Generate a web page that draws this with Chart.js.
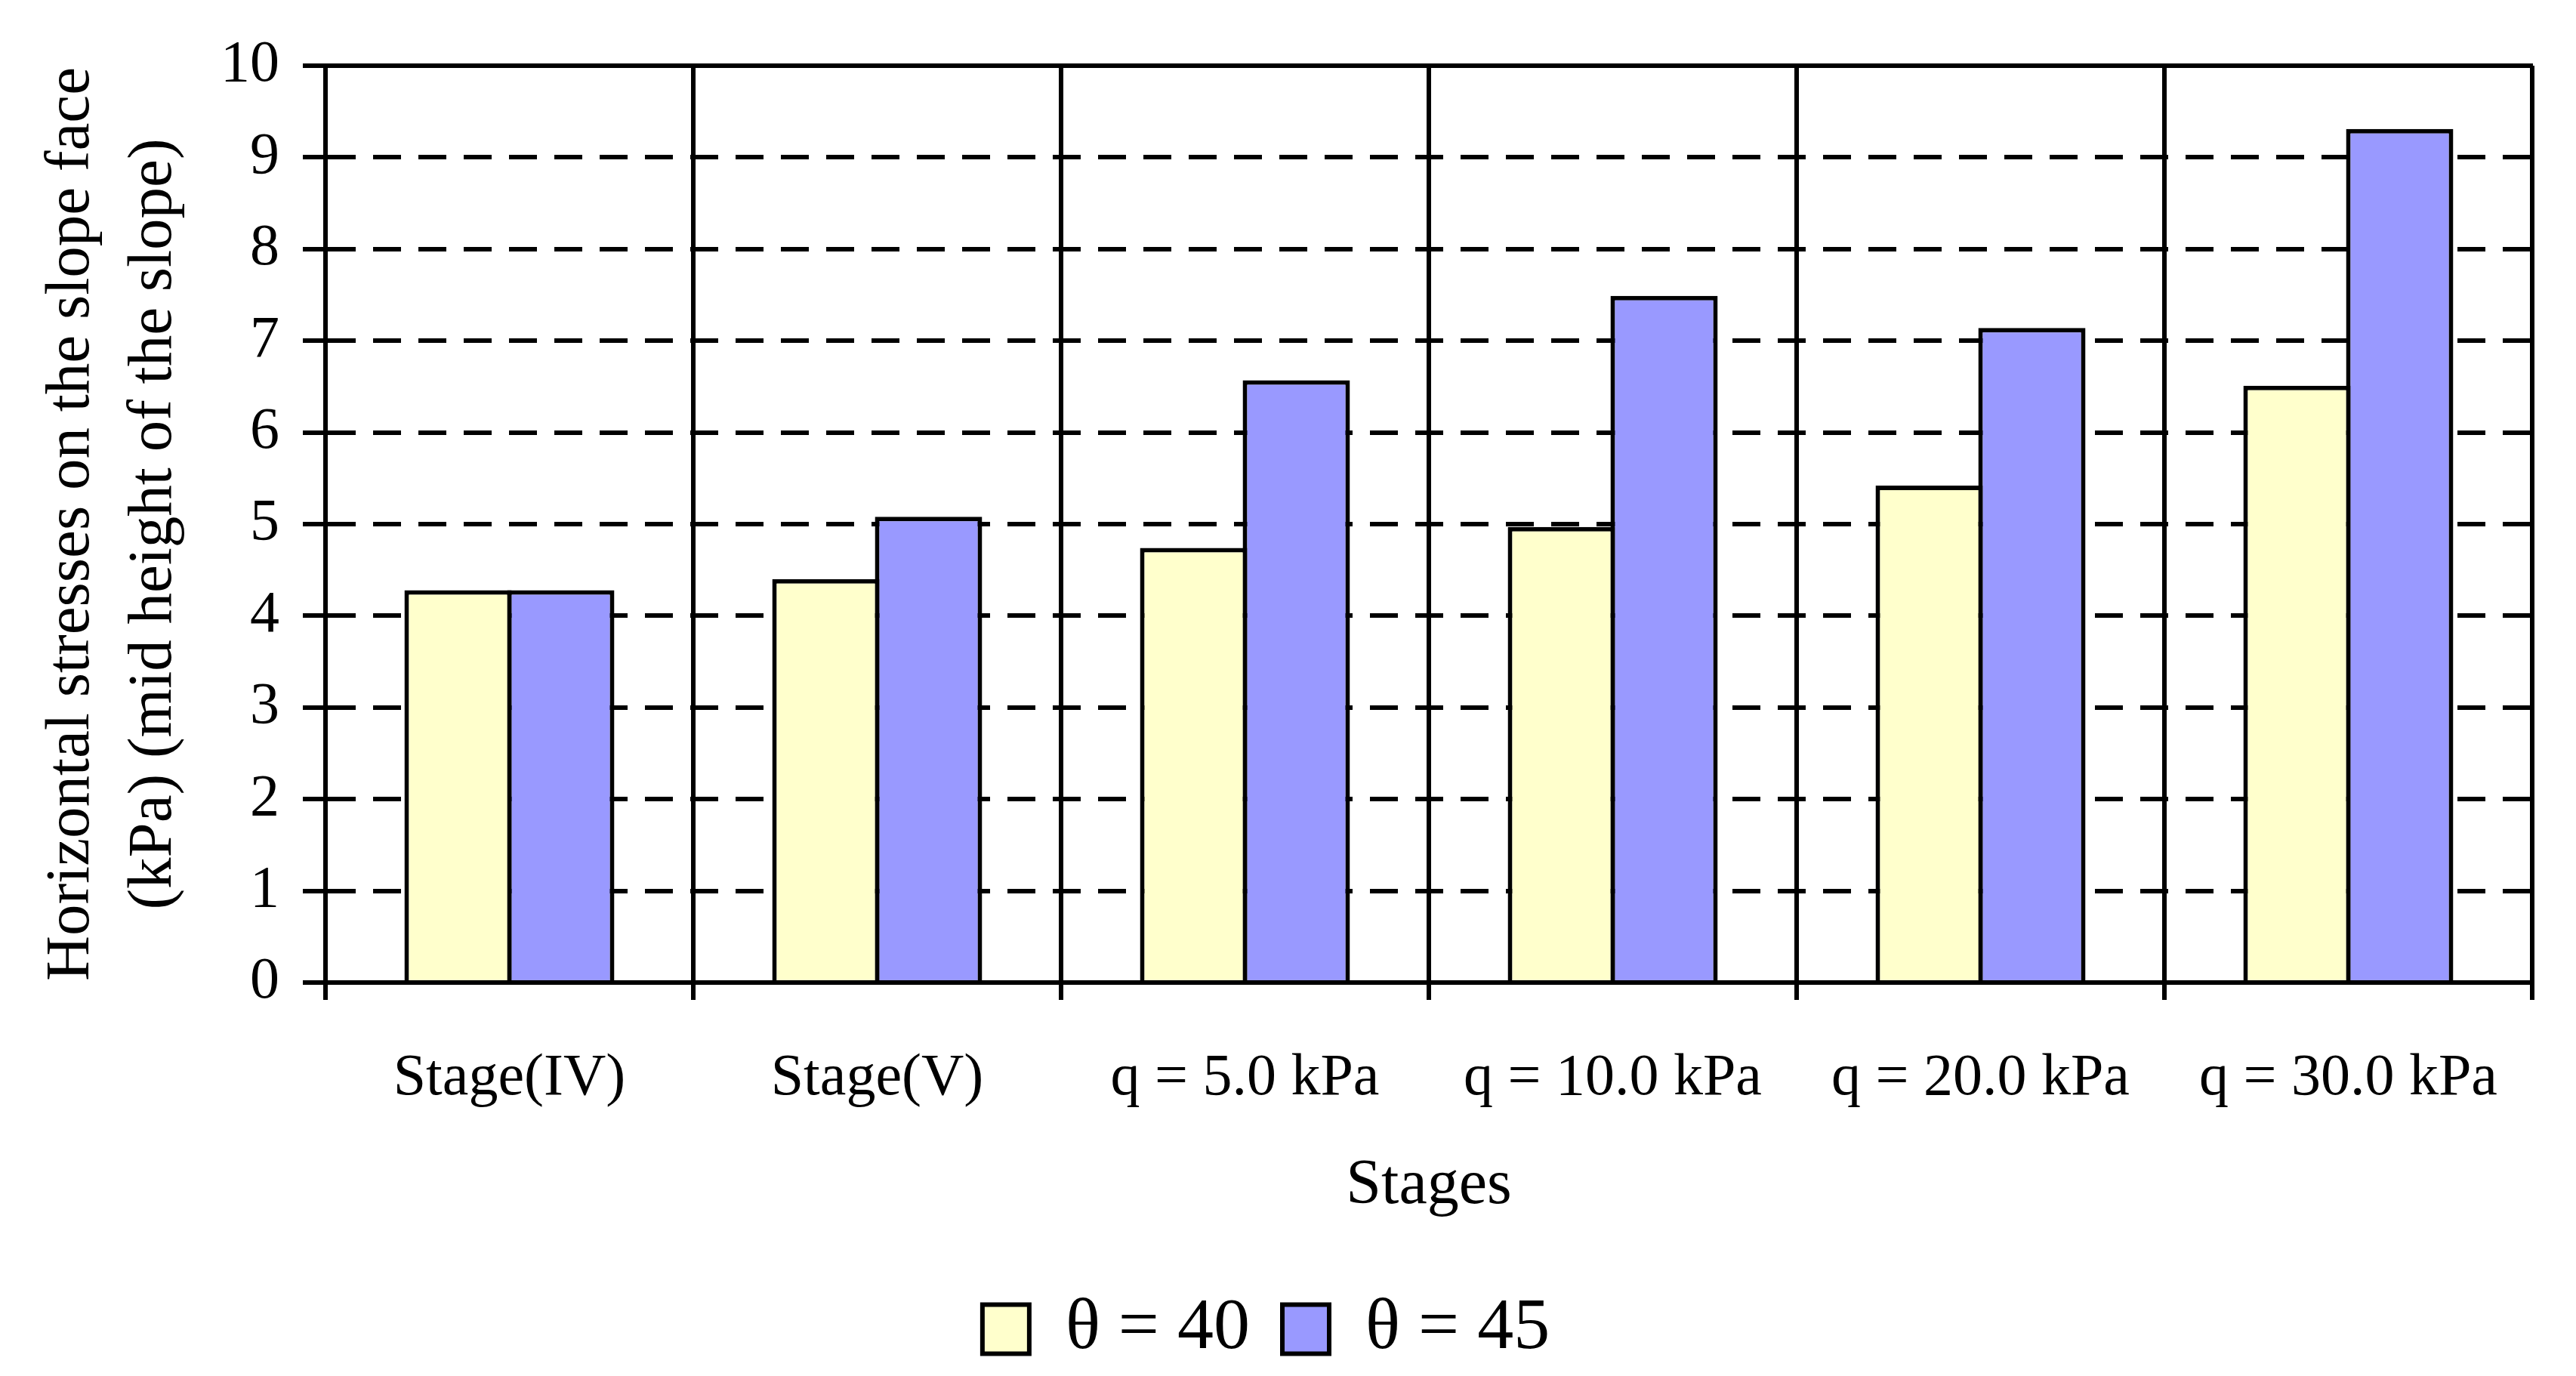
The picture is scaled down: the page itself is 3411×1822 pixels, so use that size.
<!DOCTYPE html>
<html>
<head>
<meta charset="utf-8">
<script src="https://cdn.jsdelivr.net/npm/chart.js@4.4.1/dist/chart.umd.min.js"></script>
<style>
    body { margin: 0; background: #fff; }
    #box { width: 3411px; height: 1822px; position: relative; }
</style>
</head>
<body>
<div id="box"><canvas id="stressChart"></canvas></div>
<script>

const stages = ["Stage(IV)", "Stage(V)", "q = 5.0 kPa", "q = 10.0 kPa", "q = 20.0 kPa", "q = 30.0 kPa"];

const theta40 = [4.28, 4.40, 4.74, 4.97, 5.42, 6.51];
const theta45 = [4.28, 5.08, 6.57, 7.49, 7.14, 9.31];

const yTicks = [0, 1, 2, 3, 4, 5, 6, 7, 8, 9, 10];

Chart.defaults.font.family = "'Liberation Serif', 'DejaVu Serif', serif";
Chart.defaults.color = "#000";

const ctx = document.getElementById("stressChart");

new Chart(ctx, {
    type: "bar",

    data: {
        labels: stages,
        datasets: [{
            label: "\u03b8 = 40",
            data: theta40,
            backgroundColor: "#FFFFCC",
            borderColor: "#000",
            borderWidth: 6,
            borderSkipped: "bottom"
        }, {
            label: "\u03b8 = 45",
            data: theta45,
            backgroundColor: "#9999FF",
            borderColor: "#000",
            borderWidth: 6,
            borderSkipped: "bottom"
        }]
    },

    options: {
        responsive: true,
        maintainAspectRatio: false,
        devicePixelRatio: 1,
        animation: false,
        datasets: {
            bar: {
                categoryPercentage: 0.5585,
                barPercentage: 1.0441
            }
        },
        layout: {
            padding: { left: 0, right: 58, top: 87, bottom: 4 }
        },
        plugins: {
            tooltip: { enabled: false },
            legend: {
                position: "bottom",
                labels: {
                    boxWidth: 62,
                    boxHeight: 65,
                    padding: 43,
                    font: { size: 96 }
                }
            }
        },
        scales: {
            x: {
                position: "bottom",
                offset: true,
                grid: {
                    offset: true,
                    color: "#000",
                    lineWidth: 6,
                    tickLength: 23
                },
                border: { color: "#000", width: 6 },
                ticks: {
                    autoSkip: false,
                    maxRotation: 0,
                    padding: 58,
                    font: { size: 78 }
                },
                title: {
                    display: true,
                    text: "Stages",
                    font: { size: 84 },
                    padding: { top: 0, bottom: 48 }
                },
                afterFit: function (scale) {
                    scale.height = 368;
                }
            },
            xTop: {
                type: "linear",
                position: "top",
                grid: { display: false, drawTicks: false },
                ticks: { display: false },
                border: { color: "#000", width: 6 },
                afterFit: function (scale) {
                    scale.height = 0;
                }
            },
            y: {
                min: 0,
                max: 10,
                afterBuildTicks: function (axis) {
                    axis.ticks = yTicks.map(function (v) { return { value: v }; });
                },
                grid: {
                    color: "#000",
                    lineWidth: 6,
                    tickLength: 30,
                    tickBorderDash: []
                },
                border: { display: true, color: "#000", width: 6, dash: [37, 23] },
                ticks: {
                    padding: 31,
                    font: { size: 78 }
                },
                title: {
                    display: true,
                    text: ["Horizontal stresses on the slope face", "(kPa) (mid height of the slope)"],
                    font: { size: 83, lineHeight: 1.32 },
                    padding: { top: 40, bottom: 0 }
                },
                afterFit: function (scale) {
                    scale.width = 431;
                }
            }
        }
    }
});

</script>
</body>
</html>
